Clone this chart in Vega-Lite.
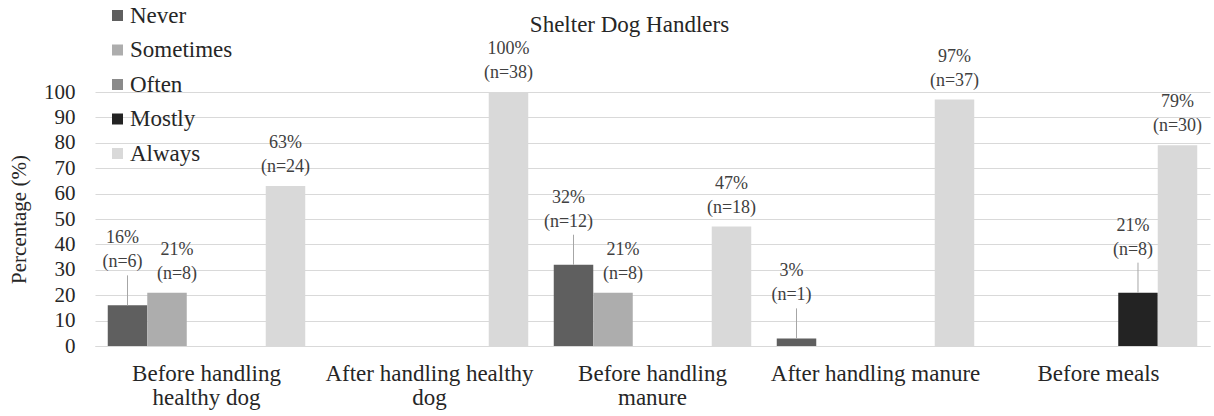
{
  "$schema": "https://vega.github.io/schema/vega-lite/v6.json",
  "width": 1115,
  "height": 254,
  "autosize": {"type": "none"},
  "padding": {"left": 95, "top": 92, "right": 4, "bottom": 70},
  "background": "white",
  "title": {
    "text": "Shelter Dog Handlers",
    "anchor": "middle",
    "frame": "group",
    "dx": -23,
    "dy": 51,
    "offset": 0,
    "baseline": "alphabetic",
    "font": "'Liberation Serif', 'DejaVu Serif', serif",
    "fontSize": 23,
    "fontWeight": "normal",
    "color": "#262626"
  },
  "config": {
    "view": {"stroke": null},
    "font": "'Liberation Serif', 'DejaVu Serif', serif"
  },
  "data": {
    "values": [
      {"activity": "Before handling healthy dog", "freq": "Never", "pct": 16, "n": 6},
      {"activity": "Before handling healthy dog", "freq": "Sometimes", "pct": 21, "n": 8},
      {"activity": "Before handling healthy dog", "freq": "Always", "pct": 63, "n": 24},
      {"activity": "After handling healthy dog", "freq": "Always", "pct": 100, "n": 38},
      {"activity": "Before handling manure", "freq": "Never", "pct": 32, "n": 12},
      {"activity": "Before handling manure", "freq": "Sometimes", "pct": 21, "n": 8},
      {"activity": "Before handling manure", "freq": "Always", "pct": 47, "n": 18},
      {"activity": "After handling manure", "freq": "Never", "pct": 3, "n": 1},
      {"activity": "After handling manure", "freq": "Always", "pct": 97, "n": 37},
      {"activity": "Before meals", "freq": "Mostly", "pct": 21, "n": 8},
      {"activity": "Before meals", "freq": "Always", "pct": 79, "n": 30}
    ]
  },
  "transform": [
    {"calculate": "[datum.pct + '%', '(n=' + datum.n + ')']", "as": "label"}
  ],
  "encoding": {
    "x": {
      "field": "activity",
      "type": "nominal",
      "sort": ["Before handling healthy dog", "After handling healthy dog", "Before handling manure", "After handling manure", "Before meals"],
      "scale": {"paddingInner": 0, "paddingOuter": 0},
      "axis": {
        "title": null,
        "labelAngle": 0,
        "labelFont": "'Liberation Serif', 'DejaVu Serif', serif",
        "labelFontSize": 23,
        "labelColor": "#262626",
        "labelLineHeight": 24,
        "labelPadding": 16,
        "labelBaseline": "top",
        "labelLimit": 0,
        "ticks": false,
        "domainColor": "#d9d9d9",
        "labelExpr": "datum.value == 'Before handling healthy dog' ? ['Before handling', 'healthy dog'] : datum.value == 'After handling healthy dog' ? ['After handling healthy', 'dog'] : datum.value == 'Before handling manure' ? ['Before handling', 'manure'] : datum.value"
      }
    },
    "xOffset": {
      "field": "freq",
      "type": "nominal",
      "scale": {"domain": ["Never", "Sometimes", "Often", "Mostly", "Always"], "paddingInner": 0, "paddingOuter": 0.323}
    },
    "y": {
      "field": "pct",
      "type": "quantitative",
      "scale": {"domain": [0, 100], "nice": false},
      "axis": {
        "title": "Percentage (%)",
        "titleFont": "'Liberation Serif', 'DejaVu Serif', serif",
        "titleFontSize": 21,
        "titleFontWeight": "normal",
        "titleColor": "#262626",
        "titleAngle": -90,
        "titleX": -70,
        "titleY": 127,
        "titleBaseline": "alphabetic",
        "titleAnchor": "middle",
        "values": [0, 10, 20, 30, 40, 50, 60, 70, 80, 90, 100],
        "labelFont": "'Liberation Serif', 'DejaVu Serif', serif",
        "labelFontSize": 21,
        "labelColor": "#262626",
        "labelPadding": 20,
        "ticks": false,
        "domain": false,
        "gridColor": "#d9d9d9",
        "gridWidth": 1
      }
    }
  },
  "layer": [
    {
      "mark": {"type": "bar"},
      "encoding": {
        "color": {
          "field": "freq",
          "type": "nominal",
          "scale": {
            "domain": ["Never", "Sometimes", "Often", "Mostly", "Always"],
            "range": ["#5f5f5f", "#adadad", "#8a8a8a", "#232323", "#d9d9d9"]
          },
          "legend": {
            "title": null,
            "orient": "none",
            "legendX": 11,
            "legendY": -88,
            "direction": "vertical",
            "symbolType": "square",
            "symbolSize": 121,
            "symbolStrokeWidth": 0,
            "labelFont": "'Liberation Serif', 'DejaVu Serif', serif",
            "labelFontSize": 23,
            "labelColor": "#262626",
            "labelOffset": 1,
            "rowPadding": 10.5,
            "padding": 0
          }
        }
      }
    },
    {
      "transform": [{"filter": "datum.freq == 'Always'"}],
      "mark": {"type": "text", "baseline": "bottom", "dy": -34, "fontSize": 18, "lineHeight": 24, "color": "#404040", "font": "'Liberation Serif', 'DejaVu Serif', serif"},
      "encoding": {"text": {"field": "label"}}
    },
    {
      "transform": [{"filter": "datum.freq == 'Sometimes'"}],
      "mark": {"type": "text", "baseline": "bottom", "dy": -34, "dx": 10, "fontSize": 18, "lineHeight": 24, "color": "#404040", "font": "'Liberation Serif', 'DejaVu Serif', serif"},
      "encoding": {"text": {"field": "label"}}
    },
    {
      "transform": [{"filter": "datum.freq == 'Never' || datum.freq == 'Mostly'"}],
      "mark": {"type": "rule", "color": "#a6a6a6", "strokeWidth": 1, "y2Offset": -30},
      "encoding": {"y2": {"field": "pct"}}
    },
    {
      "transform": [{"filter": "datum.freq == 'Never' || datum.freq == 'Mostly'"}],
      "mark": {"type": "text", "baseline": "bottom", "dy": -58, "dx": -5, "fontSize": 18, "lineHeight": 24, "color": "#404040", "font": "'Liberation Serif', 'DejaVu Serif', serif"},
      "encoding": {"text": {"field": "label"}}
    }
  ]
}
